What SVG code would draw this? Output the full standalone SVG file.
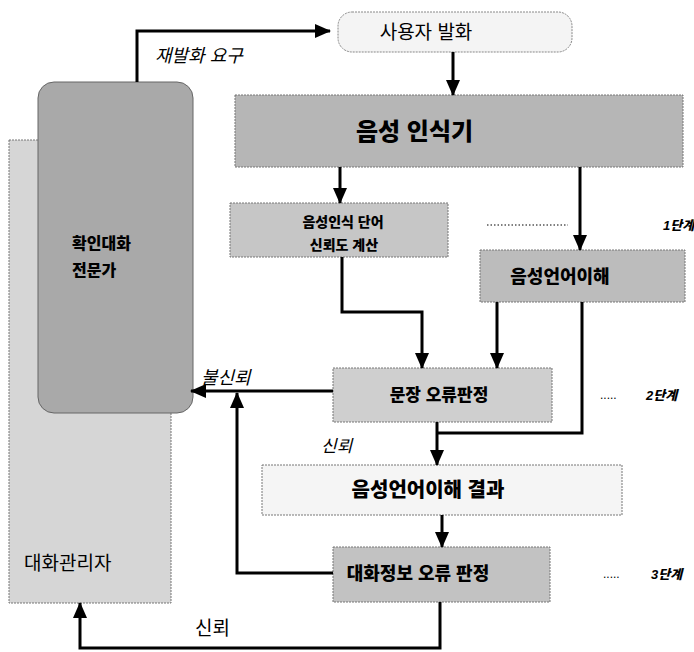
<svg xmlns="http://www.w3.org/2000/svg" width="694" height="652" viewBox="0 0 694 652">
<style>
text{font-family:"Liberation Sans","Noto Sans CJK KR",sans-serif;fill:#000}
.b{font-weight:900}
.i{font-style:italic}
.box{stroke:#777;stroke-width:1;stroke-dasharray:2 1}
.ln{fill:none;stroke:#000;stroke-width:3}
</style>
<defs>
<marker id="ah" viewBox="0 0 16 14" refX="15" refY="7" markerWidth="16" markerHeight="14" orient="auto" markerUnits="userSpaceOnUse">
<path d="M0,0 L16,7 L0,14 z" fill="#000"/>
</marker>
</defs>
<rect width="694" height="652" fill="#fff"/>

<g id="dialog-manager">
<rect class="box" x="9" y="140" width="162" height="463" fill="#d6d6d6"/>
<text x="24" y="570" font-size="19">대화관리자</text>
</g>
<g id="confirm-expert">
<rect x="38" y="82" width="155" height="331" rx="16" fill="#a9a9a9" stroke="#666" stroke-width="1"/>
<text class="b" x="72" y="249" font-size="16">확인대화</text>
<text class="b" x="72" y="276" font-size="16">전문가</text>
</g>
<g id="user-utterance">
<rect x="338" y="12" width="234" height="40" rx="14" fill="#f4f4f4" stroke="#888" stroke-width="1" stroke-dasharray="2 1"/>
<text x="426" y="39" font-size="19" text-anchor="middle">사용자 발화</text>
</g>
<g id="recognizer">
<rect class="box" x="235" y="95" width="448" height="72" fill="#b6b6b6"/>
<text class="b" x="356" y="140" font-size="24">음성 인식기</text>
</g>
<g id="word-confidence">
<rect class="box" x="230" y="203" width="218" height="54" fill="#c6c6c6"/>
<text class="b" x="343" y="227" font-size="14" text-anchor="middle">음성인식 단어</text>
<text class="b" x="344" y="250" font-size="14" text-anchor="middle">신뢰도 계산</text>
</g>
<g id="slu">
<rect class="box" x="480" y="250" width="205" height="52" fill="#bcbcbc"/>
<text class="b" x="560" y="283" font-size="18" text-anchor="middle">음성언어이해</text>
</g>
<g id="sentence-error">
<rect class="box" x="333" y="368" width="219" height="54" fill="#cfcfcf"/>
<text class="b" x="439" y="401" font-size="17" text-anchor="middle">문장 오류판정</text>
</g>
<g id="slu-result">
<rect class="box" x="262" y="465" width="360" height="50" fill="#f5f5f5"/>
<text class="b" x="428" y="497" font-size="20" text-anchor="middle">음성언어이해 결과</text>
</g>
<g id="dialog-error">
<rect class="box" x="333" y="547" width="217" height="55" fill="#c2c2c2"/>
<text class="b" x="418" y="580" font-size="18" text-anchor="middle">대화정보 오류 판정</text>
</g>

<g id="stages">
<path d="M487,225 H568" stroke="#000" stroke-width="1" stroke-dasharray="1.5 2"/>
<text class="b i" x="663" y="230" font-size="13">1단계</text>
<text x="600" y="399" font-size="12">.....</text>
<text class="b i" x="646" y="400" font-size="13">2단계</text>
<text x="603" y="578" font-size="12">.....</text>
<text class="b i" x="651" y="579" font-size="13">3단계</text>
</g>

<g id="connectors">
<path class="ln" d="M137,82 V31 H330" marker-end="url(#ah)"/>
<path class="ln" d="M453,52 V95" marker-end="url(#ah)"/>
<path class="ln" d="M340,167 V203" marker-end="url(#ah)"/>
<path class="ln" d="M580,167 V250" marker-end="url(#ah)"/>
<path class="ln" d="M342,257 V312 H422 V368" marker-end="url(#ah)"/>
<path class="ln" d="M497,302 V368" marker-end="url(#ah)"/>
<path class="ln" d="M582,302 V433 H437"/>
<path class="ln" d="M437,422 V465" marker-end="url(#ah)"/>
<path class="ln" d="M333,391 H191" marker-end="url(#ah)"/>
<path class="ln" d="M333,573 H237 V393" marker-end="url(#ah)"/>
<path class="ln" d="M442,515 V547" marker-end="url(#ah)"/>
<path class="ln" d="M440,602 V648 H80 V603" marker-end="url(#ah)"/>
<text class="i" x="155" y="62" font-size="18">재발화 요구</text>
<text class="i" x="201" y="384" font-size="18">불신뢰</text>
<text class="i" x="321" y="452" font-size="17">신뢰</text>
<text x="195" y="635" font-size="19">신뢰</text>
</g>
</svg>
